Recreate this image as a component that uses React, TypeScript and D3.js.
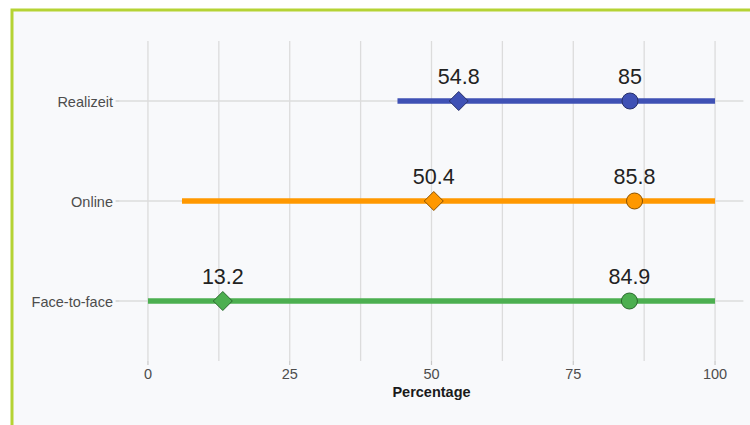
import React from "react";
import * as d3 from "d3";

const categories = ["Realizeit", "Online", "Face-to-face"];
const rangeStart = [44, 6, 0];
const rangeEnd = [100, 100, 100];
const diamondValues = [54.8, 50.4, 13.2];
const circleValues = [85, 85.8, 84.9];
const diamondLabels = ["54.8", "50.4", "13.2"];
const circleLabels = ["85", "85.8", "84.9"];
const colors = ["#3f51b5", "#ff9800", "#4caf50"];
const strokeColors = ["#27306b", "#8a5200", "#2a6a2d"];
const xTicks = [0, 25, 50, 75, 100];
const xGrid = [0, 12.5, 25, 37.5, 50, 62.5, 75, 87.5, 100];

export default function App() {
  const W = 750, H = 425;
  const panel = { left: 119.6, right: 743.4, top: 41, bottom: 361 };
  const x = d3.scaleLinear().domain([-5, 105]).range([panel.left, panel.right]);
  const y = d3.scalePoint<string>().domain(categories).range([101, 301]);
  const font = "'Liberation Sans', Arial, sans-serif";
  const diamond = (cx: number, cy: number, r: number) =>
    `M${cx},${cy - r}L${cx + r},${cy}L${cx},${cy + r}L${cx - r},${cy}Z`;

  return (
    <svg width={W} height={H} style={{ position: "absolute", left: 0, top: 0 }} fontFamily={font}>
      <rect x={0} y={0} width={W} height={H} fill="#ffffff" />
      <rect x={12} y={10} width={W + 20} height={H + 20} fill="#f8f9fb" stroke="#b5d334" strokeWidth={3} />
      {xGrid.map((t) => (
        <line key={"g" + t} x1={x(t)} x2={x(t)} y1={panel.top} y2={panel.bottom} stroke="#dcdcdc" strokeWidth={1.3} />
      ))}
      {categories.map((c) => (
        <line key={"h" + c} x1={panel.left} x2={panel.right} y1={y(c)} y2={y(c)} stroke="#dcdcdc" strokeWidth={1.3} />
      ))}
      {xTicks.map((t) => (
        <g key={"t" + t}>
          <line x1={x(t)} x2={x(t)} y1={panel.bottom} y2={panel.bottom + 4} stroke="#c8c8c8" strokeWidth={1.2} />
          <text x={x(t)} y={379} textAnchor="middle" fontSize={14.5} fill="#4d4d4d">{t}</text>
        </g>
      ))}
      {categories.map((c) => (
        <g key={"yl" + c}>
          <line x1={panel.left - 4} x2={panel.left} y1={y(c)} y2={y(c)} stroke="#c8c8c8" strokeWidth={1.2} />
          <text x={113} y={(y(c) as number) + 5.5} textAnchor="end" fontSize={14.5} fill="#4d4d4d">{c}</text>
        </g>
      ))}
      <text x={x(50)} y={397} textAnchor="middle" fontSize={14.5} fontWeight="bold" fill="#1a1a1a">Percentage</text>
      {categories.map((c, i) => {
        const cy = y(c) as number;
        return (
          <g key={"s" + c}>
            <line x1={x(rangeStart[i])} x2={x(rangeEnd[i])} y1={cy} y2={cy} stroke={colors[i]} strokeWidth={5.5} />
            <path d={diamond(x(diamondValues[i]), cy, 9.5)} fill={colors[i]} stroke={strokeColors[i]} strokeWidth={1} />
            <circle cx={x(circleValues[i])} cy={cy} r={8} fill={colors[i]} stroke={strokeColors[i]} strokeWidth={1} />
            <text x={x(diamondValues[i])} y={cy - 17} textAnchor="middle" fontSize={21.5} fill="#222">{diamondLabels[i]}</text>
            <text x={x(circleValues[i])} y={cy - 17} textAnchor="middle" fontSize={21.5} fill="#222">{circleLabels[i]}</text>
          </g>
        );
      })}
    </svg>
  );
}
